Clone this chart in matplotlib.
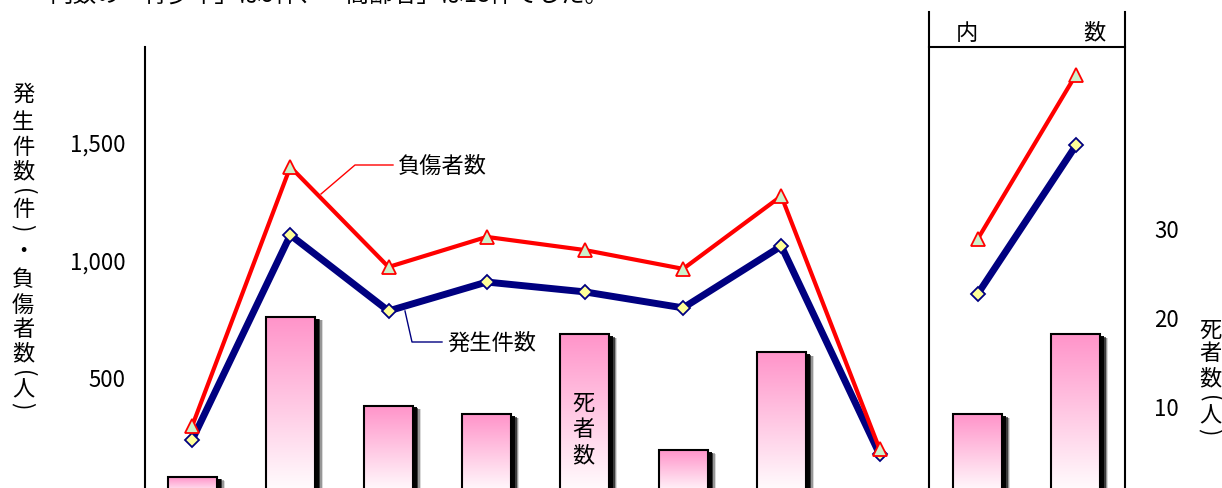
import numpy as np
import matplotlib
matplotlib.use("Agg")
import matplotlib.pyplot as plt
from matplotlib.patches import Rectangle
from matplotlib.lines import Line2D

plt.rcParams['font.family'] = ['Noto Sans CJK JP', 'DejaVu Sans']

# ---- data ----
main_pos = [0, 1, 2, 3, 4, 5, 6, 7]
sub_pos = [8, 9]                       # 内数: 青少年 / 高齢者
incidents = [232, 1104, 781, 904, 862, 794, 1057, 172]
injured = [291, 1394, 968, 1096, 1040, 960, 1270, 194]
sub_incidents = [853, 1485]
sub_injured = [1087, 1786]
deaths = [2, 20, 10, 9, 18, 5, 16, 0]
sub_deaths = [9, 18]
left_ticks = [500, 1000, 1500]
left_ticklabels = ["500", "1,000", "1,500"]
right_ticks = [10, 20, 30]
right_ticklabels = ["10", "20", "30"]

W, H = 1222, 489
fig = plt.figure(figsize=(W / 100, H / 100), dpi=100)
fig.patch.set_facecolor("white")

def fx(px):
    return px / W

def fy(py):
    return 1 - py / H

# counts axis (left) on top, deaths axis (right) behind it
ax = fig.add_axes([fx(145), fy(495.5), fx(1125) - fx(145), fy(48) - fy(495.5)])
axd = ax.twinx()
ax.set_zorder(2); ax.patch.set_visible(False)
axd.set_zorder(1)

ax.set_xlim(-0.48, 9.5)
ax.set_ylim(0, 1904)
axd.set_ylim(0, 50.3)
ax.set_xticks([])

for s in ["top", "right", "bottom"]:
    ax.spines[s].set_visible(False)
for s in axd.spines.values():
    s.set_visible(False)
ax.spines["left"].set_linewidth(1.5)

ax.set_yticks(left_ticks, left_ticklabels)
ax.tick_params(axis="y", length=0, pad=14, labelsize=16)
axd.set_yticks(right_ticks, right_ticklabels)
axd.tick_params(axis="y", length=0, pad=21, labelsize=16)

# ---- bars: soft shadow + pink gradient ----
grad = np.linspace(0, 1, 256)[:, None]
top = np.array([1.0, 0.58, 0.79]); bot = np.array([1.0, 1.0, 1.0])
grad_img = (top[None, None, :] * (1 - grad[..., None]) + bot[None, None, :] * grad[..., None])
bw = 0.5
for x, h in zip(main_pos + sub_pos, deaths + sub_deaths):
    if h <= 0:
        continue
    for off, a in [(0.08, 0.15), (0.07, 0.3), (0.055, 0.6), (0.04, 0.95)]:
        axd.add_patch(Rectangle((x - bw / 2 + off, 0), bw, h - off * 5.5, fc="black",
                                ec="none", alpha=a, zorder=1))
    axd.imshow(grad_img, extent=[x - bw / 2, x + bw / 2, 0, h], aspect="auto",
               zorder=2, interpolation="bilinear")
    axd.add_patch(Rectangle((x - bw / 2, 0), bw, h, fc="none", ec="black", lw=1.5, zorder=3))
axd.set_xlim(-0.48, 9.5)
axd.set_ylim(0, 50.3)

# ---- lines ----
blue = dict(color="#000080", lw=5, marker="D", ms=7, mfc="#FFFF99", mec="#000080", mew=1.3,
            solid_joinstyle="miter")
red = dict(color="#FF0000", lw=3, marker="^", ms=10, mfc="#CCF2CC", mec="#FF0000", mew=1.3)
ax.plot(main_pos, incidents, **blue)
ax.plot(sub_pos, sub_incidents, **blue)
ax.plot(main_pos, injured, **red)
ax.plot(sub_pos, sub_injured, **red)

# ---- divider / header of the 内数 panel ----
tr = ax.get_xaxis_transform()
for xv in [7.5, 9.5]:
    ax.add_line(Line2D([xv, xv], [0, 1.078], transform=tr, color="black", lw=1.5, clip_on=False))
ax.add_line(Line2D([7.5, 9.5], [1.0, 1.0], transform=tr, color="black", lw=1.5, clip_on=False))
fig.text(fx(967), fy(33), "内", fontsize=16, ha="center", va="center")
fig.text(fx(1094), fy(33), "数", fontsize=16, ha="center", va="center")

# ---- leaders and series labels ----
fig.add_artist(Line2D([fx(321), fx(355), fx(393)], [fy(195), fy(166), fy(166)],
                      color="#FF0000", lw=1.0))
fig.text(fx(398), fy(166), "負傷者数", fontsize=16, ha="left", va="center")
fig.add_artist(Line2D([fx(405), fx(412), fx(442)], [fy(312), fy(343), fy(343)],
                      color="#000080", lw=1.0))
fig.text(fx(447), fy(343), "発生件数", fontsize=16, ha="left", va="center")

# label inside the bar
for ch, yy in zip("死者数", [403, 430, 456]):
    fig.text(fx(583), fy(yy), ch, fontsize=16, ha="center", va="center")

# ---- vertical axis titles (brackets turned for vertical writing) ----
def vchar(x, y, ch):
    rot = -90 if ch in "()" else 0
    fig.text(fx(x), fy(y), ch, fontsize=16, ha="center", va="center", rotation=rot,
             rotation_mode="anchor")

left_chars = ["発", "生", "件", "数", "(", "件", ")", "・", "負", "傷", "者", "数", "(", "人", ")"]
left_y = [94, 122, 148, 172, 192, 210, 228, 252, 280, 306, 330, 354, 374, 390, 406]
for ch, yy in zip(left_chars, left_y):
    vchar(23, yy, ch)
right_chars = ["死", "者", "数", "(", "人", ")"]
right_y = [330, 354, 379, 399, 416, 432]
for ch, yy in zip(right_chars, right_y):
    vchar(1210, yy, ch)

# ---- cut-off sentence at the top ----
fig.text(fx(50), fy(-5), "内数の「青少年」は9件、「高齢者」は18件でした。", fontsize=17,
         ha="left", va="center")

fig.savefig("out.png", dpi=100, facecolor="white")
